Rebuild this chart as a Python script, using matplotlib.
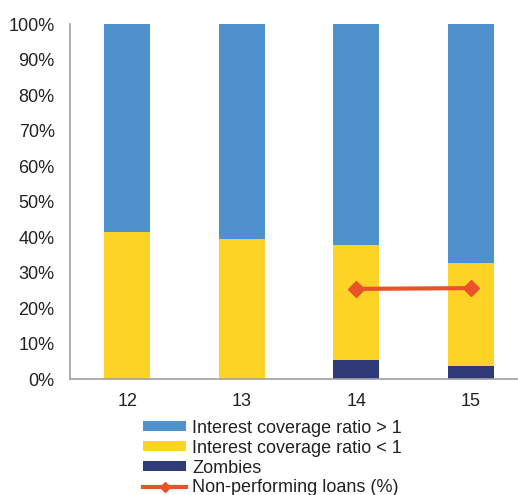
import numpy as np
import matplotlib
matplotlib.use('Agg')
import matplotlib.pyplot as plt

plt.rcParams['font.family'] = ['Liberation Sans', 'DejaVu Sans']

# Data
years = ['12', '13', '14', '15']
zombies = [0.0, 0.0, 5.4, 3.8]
icr_below_1 = [41.5, 39.4, 32.3, 28.8]   # excluding zombies
icr_above_1 = [58.5, 60.6, 62.3, 67.4]
npl_years = ['14', '15']
npl = [25.4, 25.6]

blue = '#4F91CD'
yellow = '#FDD426'
navy = '#313A78'
orange = '#E8532A'

fig = plt.figure(figsize=(5.18, 4.95), dpi=100)
ax = fig.add_axes([0.1351, 0.2343, 0.884, 0.7172])

x = np.arange(len(years))
w = 0.4
b1 = ax.bar(x, zombies, w, color=navy, label='Zombies')
b2 = ax.bar(x, icr_below_1, w, bottom=zombies, color=yellow, label='Interest coverage ratio < 1')
bottom2 = np.array(zombies) + np.array(icr_below_1)
b3 = ax.bar(x, icr_above_1, w, bottom=bottom2, color=blue, label='Interest coverage ratio > 1')

npl_x = [years.index(y) for y in npl_years]
ln, = ax.plot(npl_x, npl, color=orange, lw=3, marker='D', ms=8, label='Non-performing loans (%)')

ax.set_xlim(-0.5, 3.5)
ax.set_ylim(0, 100)
ax.set_xticks(x)
ax.set_xticklabels(years, fontsize=13, color='#222222')
ax.set_yticks(np.arange(0, 101, 10))
ax.set_yticklabels([f'{v}%' for v in range(0, 101, 10)], fontsize=13, color='#222222')
ax.tick_params(axis='y', length=0, pad=11)
ax.tick_params(axis='x', length=0, pad=10)
ax.spines['top'].set_visible(False)
ax.spines['right'].set_visible(False)
ax.spines['left'].set_color('#A0A0A0')
ax.spines['bottom'].set_color('#A0A0A0')
ax.spines['left'].set_linewidth(1.2)
ax.spines['bottom'].set_linewidth(1.2)

leg = fig.legend([b3, b2, b1, ln],
                 ['Interest coverage ratio > 1', 'Interest coverage ratio < 1', 'Zombies', 'Non-performing loans (%)'],
                 loc='upper left', bbox_to_anchor=(0.276, 0.152), frameon=False, fontsize=13,
                 handlelength=2.4, handleheight=0.5, handletextpad=0.33, labelspacing=0.16,
                 borderpad=0, borderaxespad=0, markerscale=0.7)
for t in leg.get_texts():
    t.set_color('#222222')

fig.savefig('out.png', dpi=100)
